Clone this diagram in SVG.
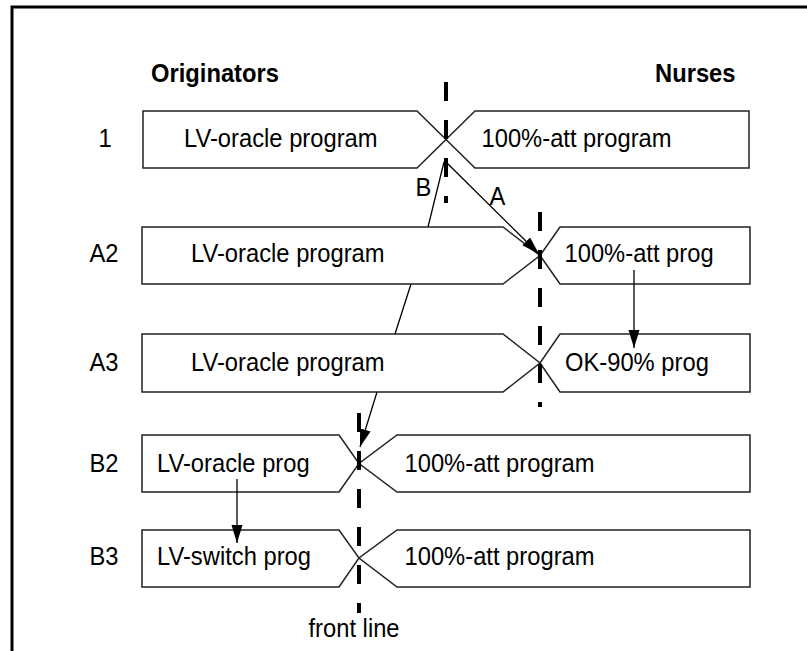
<svg xmlns="http://www.w3.org/2000/svg" width="807" height="651" viewBox="0 0 807 651">
<style>
.box{fill:#fff;stroke:#222;stroke-width:1.5}
.t{font-family:"Liberation Sans",Arial,sans-serif;font-size:25px;fill:#000}
.b{font-weight:bold}
.m{text-anchor:middle}
.con{fill:none;stroke:#000;stroke-width:1.3}
.front{fill:none;stroke:#000;stroke-width:4;stroke-dasharray:19 19}
.frame{fill:none;stroke:#000;stroke-width:3}
</style>
<defs>
<marker id="ah" markerUnits="userSpaceOnUse" markerWidth="20" markerHeight="12" refX="18" refY="5.5" orient="auto">
<path d="M0,0 L18,5.5 L0,11 z" fill="#000"/>
</marker>
</defs>
<rect width="807" height="651" fill="#fff"/>
<path class="frame" d="M12,651 L12,7 L807,7"/>
<g id="headers">
<text class="t b" transform="translate(151 82) scale(.95 1)">Originators</text>
<text class="t b" transform="translate(655 82) scale(.95 1)">Nurses</text>
</g>
<g id="row1">
<text class="t m" transform="translate(105 147) scale(.95 1)">1</text>
<polygon class="box" points="143,111 417,111 446,139.5 417,168 143,168"/>
<polygon class="box" points="749,111 475,111 446,139.5 475,168 749,168"/>
<text class="t" transform="translate(184 147) scale(.95 1)">LV-oracle program</text>
<text class="t" transform="translate(481.5 147) scale(.95 1)">100%-att program</text>
</g>
<g id="rowA2">
<text class="t m" transform="translate(104 262) scale(.95 1)">A2</text>
<polygon class="box" points="142,227 503,227 540,255.5 503,284 142,284"/>
<polygon class="box" points="750,227 560,227 540,255.5 560,284 750,284"/>
<text class="t" transform="translate(191 262) scale(.95 1)">LV-oracle program</text>
<text class="t" transform="translate(564.5 262) scale(.95 1)">100%-att prog</text>
</g>
<g id="rowA3">
<text class="t m" transform="translate(104 371) scale(.95 1)">A3</text>
<polygon class="box" points="142,334 503,334 540,363 503,392 142,392"/>
<polygon class="box" points="750,334 560,334 540,363 560,392 750,392"/>
<text class="t" transform="translate(191 371) scale(.95 1)">LV-oracle program</text>
<text class="t" transform="translate(565 371) scale(.95 1)">OK-90% prog</text>
</g>
<g id="rowB2">
<text class="t m" transform="translate(104 472) scale(.95 1)">B2</text>
<polygon class="box" points="142,435 339,435 359,463.5 339,492 142,492"/>
<polygon class="box" points="750,435 397,435 359,463.5 397,492 750,492"/>
<text class="t" transform="translate(157 472) scale(.95 1)">LV-oracle prog</text>
<text class="t" transform="translate(404.5 472) scale(.95 1)">100%-att program</text>
</g>
<g id="rowB3">
<text class="t m" transform="translate(104 565) scale(.95 1)">B3</text>
<polygon class="box" points="142,530 339,530 359,558 339,587 142,587"/>
<polygon class="box" points="750,530 397,530 359,558 397,587 750,587"/>
<text class="t" transform="translate(157 565) scale(.95 1)">LV-switch prog</text>
<text class="t" transform="translate(404.5 565) scale(.95 1)">100%-att program</text>
</g>
<g id="connectors">
<path class="con" d="M447,163 L539,254" marker-end="url(#ah)"/>
<path class="con" d="M444,162 L428,227 M411,284 L395,334 M377,392 L360,447" marker-end="url(#ah)"/>
<path class="con" d="M634,270 L634,348" marker-end="url(#ah)"/>
<path class="con" d="M237,479 L237,543" marker-end="url(#ah)"/>
<text class="t" transform="translate(489.5 205) scale(.95 1)">A</text>
<text class="t" transform="translate(415.5 196) scale(.95 1)">B</text>
</g>
<g id="frontlines">
<line class="front" x1="446" y1="82" x2="446" y2="203"/>
<line class="front" x1="540" y1="212" x2="540" y2="407"/>
<line class="front" x1="359" y1="413" x2="359" y2="613"/>
<text class="t" transform="translate(308.5 637) scale(.95 1)">front line</text>
</g>
</svg>
